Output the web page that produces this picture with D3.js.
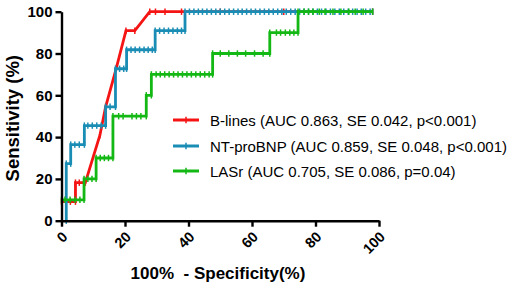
<!DOCTYPE html>
<html><head><meta charset="utf-8">
<script src="https://cdn.jsdelivr.net/npm/d3@7"></script>
<style>
html,body{margin:0;padding:0;background:#fff;}
svg{display:block;}
text{font-family:"Liberation Sans",Arial,sans-serif;}
</style></head>
<body>
<svg id="chart" width="510" height="291"></svg>
<script>
// ---- data ----
const xTicks = [0, 20, 40, 60, 80, 100];
const yTicks = [0, 20, 40, 60, 80, 100];
const seriesNames = ["B-lines (AUC 0.863, SE 0.042, p<0.001)",
                     "NT-proBNP (AUC 0.859, SE 0.048, p<0.001)",
                     "LASr (AUC 0.705, SE 0.086, p=0.04)"];
const seriesColors = ["#f51414", "#1a8db5", "#14b814"];

const bLines = [[0,9.1],[1.4,9.1],[2.8,9.1],[4.4,9.1],[4.4,18.2],[5.6,18.2],[7.5,18.2],
  [12.1,40.9],[13.9,54.5],[17.2,72.7],[20.3,90.9],[23.1,90.9],[27.8,100],[29.6,100],
  [32.6,100],[37.8,100],[50,100],[70,100],[98,100]];

const ntProBNP = [[1.5,0],[1.5,27.3],[2.9,27.3],[2.9,36.4],[4.2,36.4],[5.6,36.4],[7.2,36.4],
  [7.2,45.5],[8.3,45.5],[9.7,45.5],[11.1,45.5],[12.5,45.5],[13.9,45.5],[13.9,54.5],[15.3,54.5],
  [17.0,54.5],[17.0,72.7],[18.3,72.7],[19.6,72.7],[20.5,72.7],[20.5,81.8],[21.9,81.8],[23.2,81.8],
  [24.6,81.8],[26.0,81.8],[27.3,81.8],[28.6,81.8],[29.5,81.8],[29.5,90.9],[30.9,90.9],[32.3,90.9],
  [33.7,90.9],[35.1,90.9],[36.5,90.9],[37.8,90.9],[38.9,90.9],[38.9,100],[40.3,100],[41.7,100],
  [43.1,100],[44.4,100],[45.8,100],[47.2,100],[48.6,100],[50.0,100],[51.4,100],[52.8,100],
  [54.2,100],[55.6,100],[56.9,100],[58.3,100],[59.7,100],[61.1,100],[62.5,100],[63.9,100],
  [65.3,100],[66.7,100],[68.1,100],[69.4,100],[70.8,100],[72.2,100],[73.6,100],[75.0,100],
  [76.4,100],[77.8,100],[79.2,100],[80.6,100],[81.9,100],[83.3,100],[84.7,100],[86.1,100],
  [87.5,100],[88.9,100],[90.3,100],[91.7,100],[93.1,100],[94.4,100],[95.8,100],[97.2,100],[98,100]];

const lasr = [[0,10],[1.1,10],[2.7,10],[4.3,10],[5.8,10],[7.1,10],[7.1,20],[8.3,20],[9.6,20],
  [10.9,20],[10.9,30],[12.2,30],[13.5,30],[14.8,30],[16.2,30],[16.2,50],[18.0,50],[19.4,50],
  [22.2,50],[23.6,50],[25.0,50],[26.7,50],[26.7,60],[28.3,60],[28.3,70],[29.8,70],[31.1,70],
  [32.5,70],[33.9,70],[35.3,70],[36.7,70],[38.1,70],[39.5,70],[40.9,70],[42.3,70],[43.7,70],
  [45.1,70],[46.5,70],[47.6,70],[47.6,80],[50.0,80],[52.7,80],[55.4,80],[58.0,80],[60.8,80],
  [63.5,80],[65.6,80],[65.6,90],[67.7,90],[69.0,90],[70.5,90],[71.9,90],[73.2,90],[74.5,90],
  [74.5,100],[76.4,100],[77.8,100],[79.2,100],[81.2,100],[83.0,100],[85.5,100],[88.0,100],
  [90.5,100],[92.5,100],[95.0,100],[98,100]];

const seriesData = [bLines, ntProBNP, lasr];

// ---- drawing ----
const svg = d3.select("#chart");
const x = d3.scaleLinear().domain([0, 100]).range([61.5, 379]);
const y = d3.scaleLinear().domain([0, 100]).range([220.7, 11.7]);

// curves
const line = d3.line().x(d => x(d[0])).y(d => y(d[1]));
seriesData.forEach((pts, i) => {
  const g = svg.append("g");
  g.append("path").datum(pts)
    .attr("d", line).attr("fill", "none")
    .attr("stroke", seriesColors[i]).attr("stroke-width", 2.8)
    .attr("stroke-linejoin", "miter");
  g.selectAll("line.m").data(pts).join("line")
    .attr("x1", d => x(d[0])).attr("x2", d => x(d[0]))
    .attr("y1", d => y(d[1]) - 3.2).attr("y2", d => y(d[1]) + 3.2)
    .attr("stroke", seriesColors[i]).attr("stroke-width", 1.5);
});

// axes
const yAxis = svg.append("g").attr("transform", `translate(${x(0)},0)`)
  .call(d3.axisLeft(y).tickValues(yTicks).tickSize(6).tickPadding(3).tickSizeOuter(0));
const xAxis = svg.append("g").attr("transform", `translate(0,${y(0)})`)
  .call(d3.axisBottom(x).tickValues(xTicks).tickSize(6).tickSizeOuter(0).tickFormat(""));
[yAxis, xAxis].forEach(a => {
  a.select(".domain").attr("stroke", "#000").attr("stroke-width", 2.4);
  a.selectAll(".tick line").attr("stroke", "#000").attr("stroke-width", 2.4);
});
yAxis.selectAll(".tick text").attr("font-family", "Liberation Sans, Arial, sans-serif")
  .attr("font-size", 15).attr("font-weight", "bold").attr("fill", "#000");

// rotated x tick labels
svg.append("g").selectAll("text").data(xTicks).join("text")
  .attr("transform", d => `translate(${x(d) + 7},${y(0) + 17}) rotate(-45)`)
  .attr("text-anchor", "end")
  .attr("font-size", 14.5).attr("font-weight", "bold").attr("fill", "#000")
  .text(d => d);

// axis titles
svg.append("text").attr("transform", `translate(12,${(y(0) + y(100)) / 2 + 2}) rotate(-90)`)
  .attr("text-anchor", "middle").attr("dominant-baseline", "central")
  .attr("font-size", 18.5).attr("font-weight", "bold").text("Sensitivity (%)");
svg.append("text").attr("x", 218).attr("y", 279)
  .attr("text-anchor", "middle")
  .attr("font-size", 17).attr("font-weight", "bold").text("100%\u00a0\u00a0- Specificity(%)");

// legend
const legY = [120, 146, 171];
seriesNames.forEach((name, i) => {
  const g = svg.append("g").attr("transform", `translate(0,${legY[i]})`);
  g.append("line").attr("x1", 173).attr("x2", 199).attr("y1", 0).attr("y2", 0)
    .attr("stroke", seriesColors[i]).attr("stroke-width", 3);
  g.append("line").attr("x1", 186).attr("x2", 186).attr("y1", -3.2).attr("y2", 3.2)
    .attr("stroke", seriesColors[i]).attr("stroke-width", 1.5);
  g.append("text").attr("x", 210).attr("y", 0).attr("dominant-baseline", "central")
    .attr("font-size", 15).attr("fill", "#000").text(name);
});
</script>
</body></html>
